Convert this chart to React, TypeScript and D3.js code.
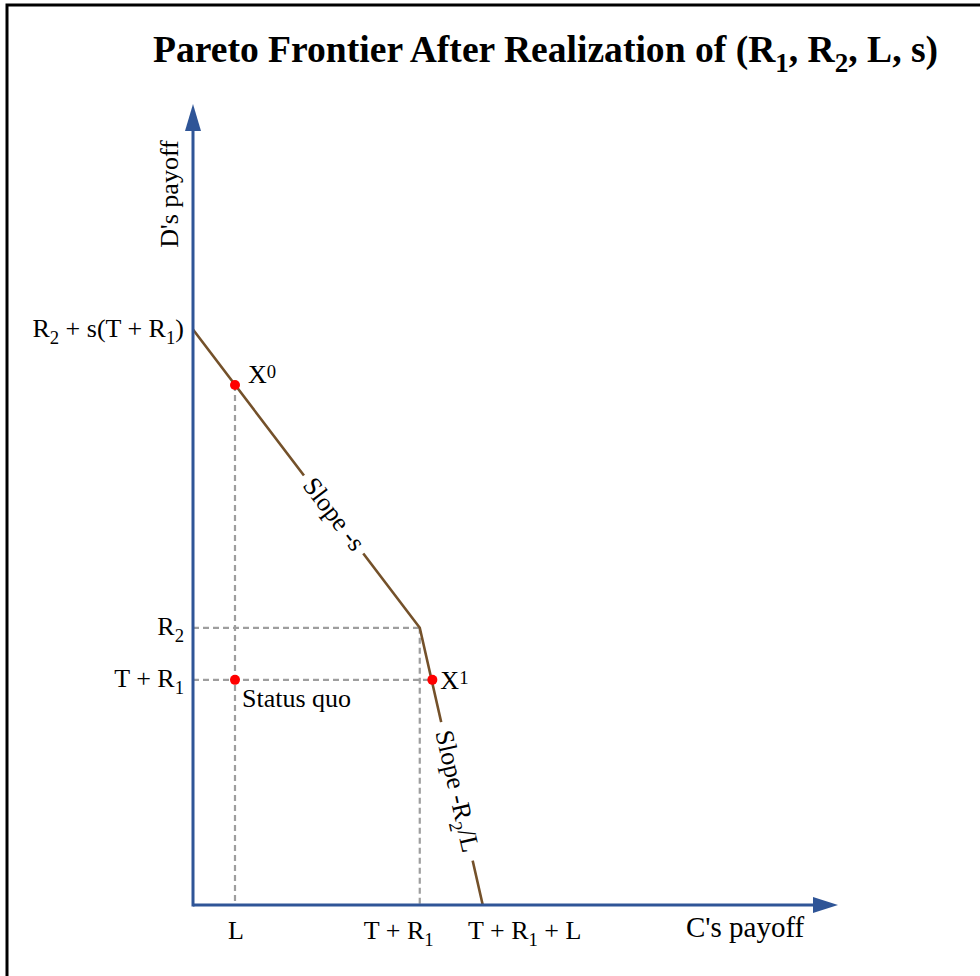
import * as d3 from "d3";

// chart values (abstract payoff units)
const xTickValues = [1.0, 5.4, 6.9];
const xTickLabels = ["L", "T + R_1", "T + R_1 + L"];
const yTickValues = [13.7, 6.6, 5.36];
const yTickLabels = ["R_2 + s(T + R_1)", "R_2", "T + R_1"];
const frontierX = [0, 5.4, 6.9];
const frontierY = [13.7, 6.6, 0];
const pointNames = ["X^0", "Status quo", "X^1"];
const pointX = [1.0, 1.0, 5.7];
const pointY = [12.38, 5.36, 5.36];
const slopeLabels = ["Slope -s", "Slope -R_2/L"];
const xMax = 15.36;
const yMax = 19.07;

const W = 980, H = 976;
const FONT = "'Liberation Serif', 'Times New Roman', serif";
const AXIS = "#2F5597";
const BROWN = "#74512A";
const GRID = "#9E9E9E";

function rich(s: string, size: number) {
  const parts: { t: string; m: string }[] = [];
  let buf = "";
  for (let i = 0; i < s.length; i++) {
    const c = s[i];
    if ((c === "_" || c === "^") && i + 1 < s.length) {
      if (buf) parts.push({ t: buf, m: "" });
      buf = "";
      parts.push({ t: s[i + 1], m: c });
      i++;
    } else buf += c;
  }
  if (buf) parts.push({ t: buf, m: "" });
  let shift = 0;
  return parts.map((p, k) => {
    const target = p.m === "_" ? size * 0.27 : p.m === "^" ? -size * 0.19 : 0;
    const dy = target - shift;
    shift = target;
    return (
      <tspan key={k} dy={dy} fontSize={p.m ? size * 0.72 : size}>
        {p.t}
      </tspan>
    );
  });
}

export default function App() {
  const x = d3.scaleLinear().domain([0, xMax]).range([193, 838]);
  const y = d3.scaleLinear().domain([0, yMax]).range([905, 104]);

  const line = d3
    .line<number>()
    .x((_, i) => x(frontierX[i]))
    .y((_, i) => y(frontierY[i]));

  // dashed guides from the point / kink values
  const guides = [
    [pointX[0], pointY[0], pointX[0], 0],
    [frontierX[1], frontierY[1], frontierX[1], 0],
    [0, frontierY[1], frontierX[1], frontierY[1]],
    [0, pointY[1], pointX[2], pointY[2]],
  ];

  const xLabelDx = [1, -21, 42];
  const labelOffsets = [
    [13, -2],
    [7, 27],
    [8, 9],
  ];

  // slope labels sit on each segment
  const segs = [0, 1].map((i) => {
    const x0 = x(frontierX[i]), y0 = y(frontierY[i]);
    const x1 = x(frontierX[i + 1]), y1 = y(frontierY[i + 1]);
    const ang = (Math.atan2(y1 - y0, x1 - x0) * 180) / Math.PI;
    return { ang, x0, y0, x1, y1 };
  });
  const slopePos = [
    { t: 0.62, w: 98 },
    { t: 0.59, w: 142 },
  ];

  return (
    <svg
      width={W}
      height={H}
      style={{ position: "absolute", left: 0, top: 0, background: "#fff" }}
      fontFamily={FONT}
    >
      <rect x={0} y={0} width={W} height={H} fill="#fff" />
      <path d={`M7,${H} V5 H${W}`} fill="none" stroke="#000" strokeWidth={3} />

      <text x={153} y={62} fontSize={37.6} fontWeight="bold" fill="#000">
        {rich("Pareto Frontier After Realization of (R_1, R_2, L, s)", 37.6)}
      </text>

      {guides.map((g, i) => (
        <line
          key={i}
          x1={x(g[0])}
          y1={y(g[1])}
          x2={x(g[2])}
          y2={y(g[3])}
          stroke={GRID}
          strokeWidth={2.2}
          strokeDasharray="6 4"
        />
      ))}

      <path d={line(frontierX) || ""} fill="none" stroke={BROWN} strokeWidth={2.6} />

      {segs.map((s, i) => {
        const cx = s.x0 + (s.x1 - s.x0) * slopePos[i].t;
        const cy = s.y0 + (s.y1 - s.y0) * slopePos[i].t;
        return (
          <g key={i} transform={`translate(${cx},${cy}) rotate(${s.ang})`}>
            <rect x={-slopePos[i].w / 2} y={-14} width={slopePos[i].w} height={28} fill="#fff" />
            <text textAnchor="middle" y={8} fontSize={26} fill="#000">
              {rich(slopeLabels[i], 26)}
            </text>
          </g>
        );
      })}

      {/* axes */}
      <line x1={x(0)} y1={y(0)} x2={x(xMax) - 20} y2={y(0)} stroke={AXIS} strokeWidth={3} />
      <line x1={x(0)} y1={y(0) + 1.5} x2={x(0)} y2={y(yMax) + 20} stroke={AXIS} strokeWidth={3} />
      <path
        d={`M${x(xMax)},${y(0)} L${x(xMax) - 25},${y(0) - 8} L${x(xMax) - 25},${y(0) + 8} Z`}
        fill={AXIS}
      />
      <path
        d={`M${x(0)},${y(yMax)} L${x(0) - 8},${y(yMax) + 27} L${x(0) + 8},${y(yMax) + 27} Z`}
        fill={AXIS}
      />

      {xTickValues.map((v, i) => (
        <text key={i} x={x(v) + xLabelDx[i]} y={939} textAnchor="middle" fontSize={26} fill="#000">
          {rich(xTickLabels[i], 26)}
        </text>
      ))}
      {yTickValues.map((v, i) => (
        <text key={i} x={184} y={y(v) + 7} textAnchor="end" fontSize={26} fill="#000">
          {rich(yTickLabels[i], 26)}
        </text>
      ))}

      <text x={686} y={937} fontSize={29} fill="#000">
        C's payoff
      </text>
      <text transform="translate(178,194) rotate(-90)" textAnchor="middle" fontSize={26} fill="#000">
        D's payoff
      </text>

      {pointX.map((v, i) => (
        <g key={i}>
          <circle cx={x(v)} cy={y(pointY[i])} r={5} fill="#FF0000" />
          <text
            x={x(v) + labelOffsets[i][0]}
            y={y(pointY[i]) + labelOffsets[i][1]}
            fontSize={26}
            fill="#000"
          >
            {rich(pointNames[i], 26)}
          </text>
        </g>
      ))}
    </svg>
  );
}
